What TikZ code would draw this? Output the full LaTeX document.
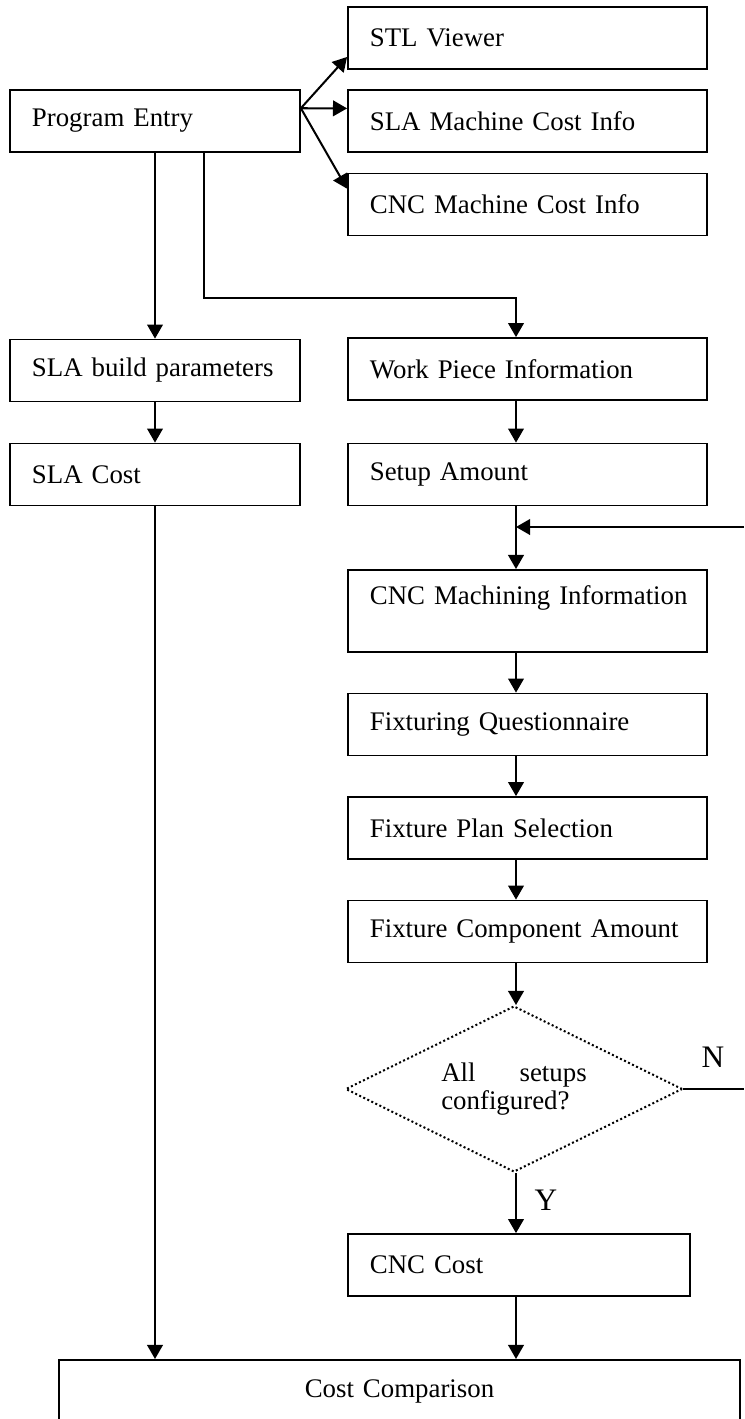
\documentclass[tikz,border=0pt]{standalone}
\usepackage{fontspec}
\setmainfont{Liberation Serif}
\usetikzlibrary{positioning, arrows, arrows.meta, shapes.geometric}

\begin{document}
\begin{tikzpicture}[x=0.447pt,y=-0.447pt,
  font=\fontsize{12pt}{14.5pt}\selectfont,
  >={Triangle[length=6.3pt,width=7pt]},
  box/.style={draw,line width=0.8pt,minimum height=27.7pt,inner xsep=9.8pt,inner ysep=3pt,align=left},
  wide/.style={box,text width=140.9pt},
  narrow/.style={box,text width=110pt},
  link/.style={->,line width=0.9pt},
  mark label/.style={font=\fontsize{14pt}{17pt}\selectfont}]
\useasboundingbox (0,0) rectangle (744,1419);
\clip (0,0) rectangle (744,1419);
\node[narrow] (entry) at (155,121) {Program Entry};
\node[wide] (stl) at (527.5,38) {STL Viewer};
\node[wide] (slainfo) at (527.5,121) {SLA Machine Cost Info};
\node[wide] (cncinfo) at (527.5,204.5) {CNC Machine Cost Info};
\node[narrow] (slabuild) at (155,370.5) {SLA build parameters};
\node[narrow] (slacost) at (155,474.5) {SLA Cost};
\node[wide] (workpiece) at (527.5,369) {Work Piece Information};
\node[wide] (setup) at (527.5,474.5) {Setup Amount};
\node[wide,minimum height=36.7pt] (cncmach) at (527.5,611) {\mbox{CNC Machining Information}\\\mbox{}};
\node[wide] (fixq) at (527.5,724.5) {Fixturing Questionnaire};
\node[wide] (fixplan) at (527.5,828) {Fixture Plan Selection};
\node[wide] (fixcomp) at (527.5,931.5) {Fixture Component Amount};
\node[draw,dash pattern=on 0.9pt off 1.1pt,line width=0.9pt,diamond,aspect=2,minimum width=150.6pt,minimum height=74.2pt,
  inner sep=0pt,text width=65pt,align=left,font=\fontsize{12pt}{12.5pt}\selectfont] (check) at (514,1089)
  {All\hfill setups\\configured?};
\node[box,text width=133.3pt] (cnccost) at (519,1265) {CNC Cost};
\node[box,text width=284.8pt,align=center,minimum height=28.6pt,anchor=north] (compare) at (399.5,1359) {Cost Comparison};
\node[mark label] (yes) at (546,1200) {Y};
\node[mark label] (no) at (713,1057) {N};
\coordinate (spine) at (516,0);
\coordinate (branch) at (204,298);
\coordinate (loopin) at (744,527);
\coordinate (loopout) at (744,1089);
\foreach \t/\a in {stl/186,slainfo/176,cncinfo/175}{
\draw[link] (entry.5) -- (\t.\a);
}
\draw[link] (entry.south) -- (slabuild.north);
\draw[link] (slabuild.south) -- (slacost.north);
\draw[link] (slacost.south) -- (slacost.south |- compare.north);
\draw[link] (entry.south -| branch) -- (branch) -| (workpiece.north -| spine);
\foreach \a/\b in {workpiece/setup,setup/cncmach,cncmach/fixq,fixq/fixplan,fixplan/fixcomp,fixcomp/check,check/cnccost,cnccost/compare}{
\draw[link] (\a.south -| spine) -- (\b.north -| spine);
}
\draw[line width=0.9pt] (check.east) -- (loopout);
\draw[link] (loopin) -- (loopin -| spine);
\end{tikzpicture}
\end{document}
